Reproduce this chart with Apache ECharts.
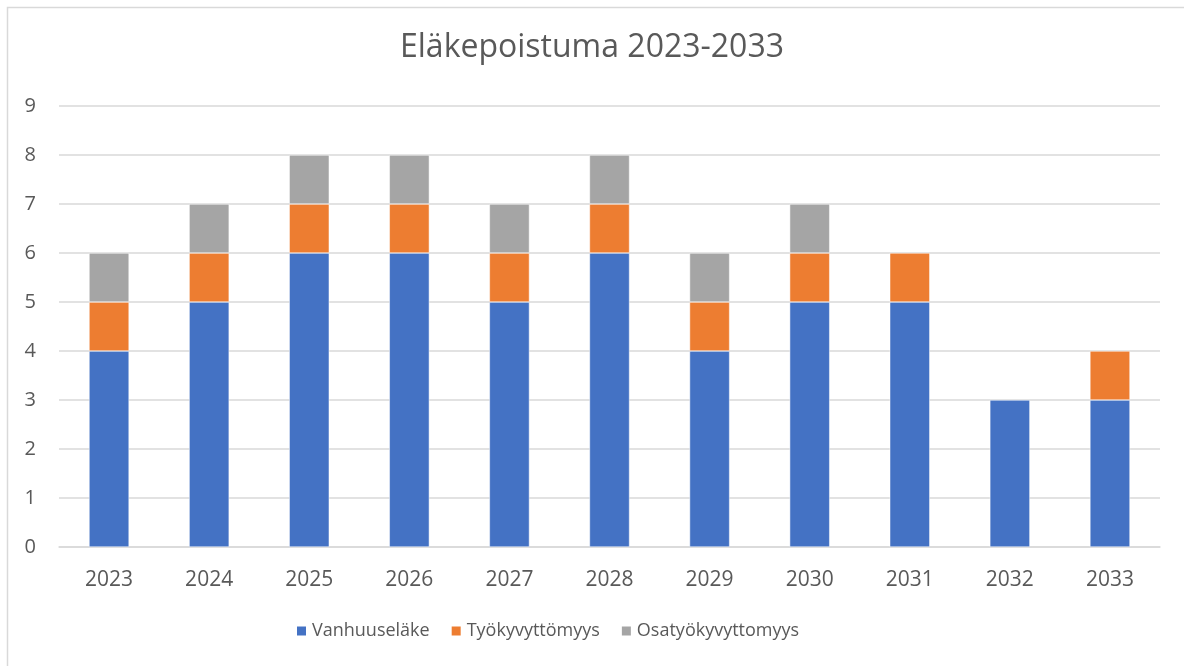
<!DOCTYPE html>
<html>
<head>
<meta charset="utf-8">
<script src="https://cdn.jsdelivr.net/npm/echarts@6/dist/echarts.min.js"></script>
<style>
html,body{margin:0;padding:0;background:#fff;}
#chart{width:1184px;height:666px;}
</style>
</head>
<body>
<div id="chart"></div>
<script>
const categories = ['2023','2024','2025','2026','2027','2028','2029','2030','2031','2032','2033'];
const vanhuuselake = [4,5,6,6,5,6,4,5,5,3,3];
const tyokyvyttomyys = [1,1,1,1,1,1,1,1,1,0,1];
const osatyokyvyttomyys = [1,1,1,1,1,1,1,1,0,0,0];
const yTicks = [0,1,2,3,4,5,6,7,8,9];

const FONT = '"Open Sans", "Liberation Sans", sans-serif';
const chart = echarts.init(document.getElementById('chart'), null, {renderer:'canvas'});
function toData(arr){ return arr.map(v => v === 0 ? null : v); }
const seriesDefs = [
  ['Vanhuuseläke', vanhuuselake, '#4472C4'],
  ['Työkyvyttömyys', tyokyvyttomyys, '#ED7D31'],
  ['Osatyökyvyttomyys', osatyokyvyttomyys, '#A5A5A5']
];
chart.setOption({
  animation:false,
  backgroundColor:'#fff',
  graphic:[{type:'rect', shape:{x:7.5,y:7.5,width:1200,height:700}, style:{fill:'none', stroke:'#D9D9D9', lineWidth:1.5}, silent:true}],
  title:{text:'Eläkepoistuma 2023-2033', left:'center', top:27, textStyle:{fontFamily:FONT, fontSize:32, fontWeight:'normal', color:'#595959'}},
  legend:{bottom:21, left:290, itemWidth:11, itemHeight:11, itemGap:20, icon:'rect',
    textStyle:{fontFamily:FONT, fontSize:18, color:'#595959'}},
  grid:{left:59, right:24, top:106, bottom:119, containLabel:false, outerBoundsMode:'none'},
  xAxis:{type:'category', data:categories,
    axisLine:{lineStyle:{color:'#D9D9D9', width:1.5}}, axisTick:{show:false},
    axisLabel:{fontFamily:FONT, fontSize:21, color:'#595959', margin:23}},
  yAxis:{type:'value', min:yTicks[0], max:yTicks[yTicks.length-1], interval:1,
    axisLine:{show:false}, axisTick:{show:false},
    splitLine:{lineStyle:{color:'#D9D9D9', width:1.5}},
    axisLabel:{fontFamily:FONT, fontSize:20, color:'#595959', margin:23}},
  series: seriesDefs.map(([name, arr, color]) => ({
    name, type:'bar', stack:'total', data:toData(arr), barWidth:'40%',
    itemStyle:{color, borderColor:'#fff', borderWidth:0.5}
  }))
});
</script>
</body>
</html>
